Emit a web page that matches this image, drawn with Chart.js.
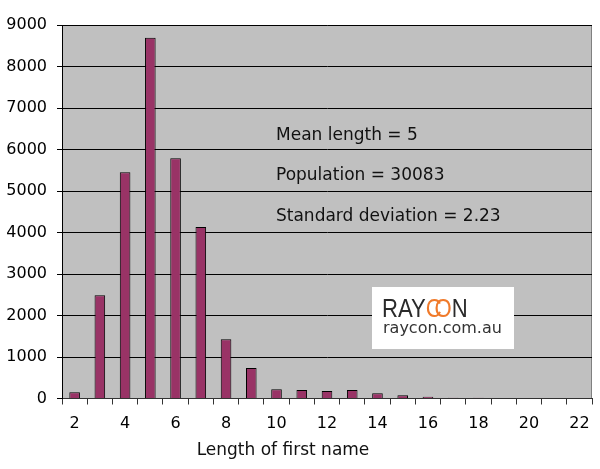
<!DOCTYPE html>
<html>
<head>
<meta charset="utf-8">
<script src="https://cdn.jsdelivr.net/npm/chart.js@4/dist/chart.umd.min.js"></script>
<style>
  body { margin: 0; background: #fff; }
</style>
</head>
<body>
<canvas id="myChart" width="600" height="469"></canvas>
<script>
// name lengths 2..22 and how many names have that length
const lengths = ['2', '3', '4', '5', '6', '7', '8', '9', '10', '11', '12', '13', '14', '15', '16', '17', '18', '19', '20', '21', '22'];
const counts = [150, 2490, 5450, 8690, 5790, 4130, 1430, 735, 220, 205, 180, 205, 125, 77, 43, 20, 20, 0, 0, 0, 0];
const yTicks = [0, 1000, 2000, 3000, 4000, 5000, 6000, 7000, 8000, 9000];
const notes = ['Mean length = 5', 'Population = 30083', 'Standard deviation = 2.23'];
const axisTitle = 'Length of first name';

const font = 'DejaVu Sans';

// grey plot background + thin frame
const plotBack = {
    id: 'plotBack',
    beforeDraw(chart) {
        const { ctx, chartArea: a } = chart;
        ctx.save();
        ctx.fillStyle = '#c0c0c0';
        ctx.fillRect(a.left, a.top, a.right - a.left, a.bottom - a.top);
        ctx.strokeStyle = '#808080';
        ctx.lineWidth = 1;
        ctx.beginPath();
        ctx.moveTo(a.left, a.top + 0.5);
        ctx.lineTo(a.right - 0.5, a.top + 0.5);
        ctx.lineTo(a.right - 0.5, a.bottom);
        ctx.stroke();
        ctx.restore();
    }
};

// text notes, logo and the x axis title
const extras = {
    id: 'extras',
    afterDraw(chart) {
        const ctx = chart.ctx;
        ctx.save();
        ctx.fillStyle = '#111';
        ctx.font = '17px "' + font + '"';
        ctx.textBaseline = 'middle';
        ctx.textAlign = 'left';
        const noteY = [136, 175.5, 216.5];
        notes.forEach((t, i) => ctx.fillText(t, 276, noteY[i]));

        ctx.textAlign = 'center';
        ctx.fillText(axisTitle, 283, 451);

        // logo box
        ctx.fillStyle = '#fff';
        ctx.fillRect(372, 287, 142, 62);
        ctx.textAlign = 'left';
        ctx.textBaseline = 'alphabetic';
        ctx.save();
        ctx.translate(382, 317);
        ctx.scale(0.85, 1);
        ctx.font = '26px "Liberation Sans"';
        ctx.fillStyle = '#2a2a2a';
        ctx.fillText('RAY', 0, 0);
        let x = ctx.measureText('RAY').width;
        ctx.fillStyle = '#f07a2a';
        ctx.fillText('C', x, 0);
        x += ctx.measureText('C').width * 0.55;
        ctx.fillText('O', x, 0);
        x += ctx.measureText('O').width;
        ctx.fillStyle = '#2a2a2a';
        ctx.fillText('N', x, 0);
        ctx.restore();
        ctx.font = '16px "' + font + '"';
        ctx.fillStyle = '#333';
        ctx.fillText('raycon.com.au', 383, 333);
        ctx.restore();
    }
};

const data = {
    labels: lengths,
    datasets: [{
        data: counts,
        backgroundColor: '#993366',
        borderColor: '#000',
        borderWidth: 1,
        categoryPercentage: 1,
        barPercentage: 0.42
    }]
};

const config = {
    type: 'bar',
    data: data,
    options: {
        responsive: false,
        animation: false,
        devicePixelRatio: 1,
        layout: { padding: { top: 25, right: 8, left: 0, bottom: 0 } },
        plugins: {
            legend: { display: false },
            tooltip: { enabled: false }
        },
        scales: {
            x: {
                offset: true,
                grid: {
                    offset: true,
                    drawOnChartArea: false,
                    color: '#333',
                    tickLength: 6
                },
                border: { color: '#333' },
                ticks: {
                    autoSkip: false,
                    maxRotation: 0,
                    padding: 10,
                    color: '#000',
                    font: { family: font, size: 16 },
                    callback: (v, i) => Number(lengths[i]) % 2 === 0 ? lengths[i] : ''
                },
                afterFit: s => { s.height = 70.5; }
            },
            y: {
                min: 0,
                max: 9000,
                afterBuildTicks: s => { s.ticks = yTicks.map(v => ({ value: v })); },
                grid: { color: '#000', tickLength: 5 },
                border: { color: '#000' },
                ticks: {
                    padding: 10,
                    color: '#000',
                    font: { family: font, size: 16 },
                    callback: v => String(v)
                },
                afterFit: s => { s.width = 62; }
            }
        }
    },
    plugins: [plotBack, extras]
};

const chart = new Chart(document.getElementById('myChart'), config);
</script>
</body>
</html>
